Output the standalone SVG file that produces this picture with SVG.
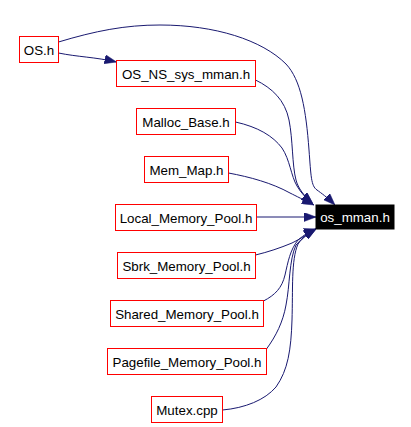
<svg xmlns="http://www.w3.org/2000/svg" width="411" height="427" viewBox="0 0 411 427">
<style>
.n rect{fill:#ffffff;stroke:#ff0000;stroke-width:1}
.n text{font-family:"Liberation Sans",Arial,sans-serif;font-size:13.33px;fill:#000000;text-anchor:middle}
.r rect{fill:#000000;stroke:#000000;stroke-width:1}
.r text{font-family:"Liberation Sans",Arial,sans-serif;font-size:13.33px;fill:#ffffff;text-anchor:middle}
.e path{fill:none;stroke:#191970;stroke-width:1;marker-end:url(#arr)}
</style>
<defs>
<marker id="arr" markerUnits="userSpaceOnUse" markerWidth="12" markerHeight="9" viewBox="0 0 12 9" refX="12" refY="4.5" orient="auto">
<path d="M0,0 L12,4.5 L0,9 z" fill="#191970" stroke="#191970" stroke-width="0.5"/>
</marker>
</defs>
<rect width="411" height="427" fill="#ffffff"/>
<g id="edges" class="e">
<path d="M58.5,42 C95,31 125,25 160,25 C215,25 262,40 286,64 C301,80 306,110 309,150 C311,176 311,186 317,190 C321,193 327,197 335,205"/>
<path d="M58.5,53 C78,57 95,57 116.5,62"/>
<path d="M255.5,80 C272,88 285,100 289,120 C293,140 292,165 296,180 C298,188 304,196 313,204"/>
<path d="M235.5,122 C258,127 273,136 282,148 C290,160 291,176 297,186 C301,193 306,198 313,204"/>
<path d="M228.5,173 C250,177 272,183 290,193 C296,196 304,200 314,205"/>
<path d="M256.5,217 L316,217"/>
<path d="M255.5,255 C268,252 280,248 292,243 C300,239 308,234 316,229"/>
<path d="M263.5,301 C275,295 282,288 285,275 C288,262 290,250 298,240 C304,235 310,231 316,229"/>
<path d="M266.5,349 C276,336 283,322 286,305 C290,285 289,260 296,245 C302,238 309,233 316,229"/>
<path d="M222.5,410 C245,408 265,400 276,387 C288,370 291,350 292,320 C293,290 291,260 298,244 C303,237 310,232 316,229"/>
</g>
<g id="os_mman_h" class="r"><rect x="316" y="205" width="78" height="24" stroke="none"/><text x="355" y="222">os_mman.h</text></g>
<g id="OS_h" class="n"><rect x="19.5" y="36.5" width="39" height="26"/><text x="39" y="54.5">OS.h</text></g>
<g id="OS_NS_sys_mman_h" class="n"><rect x="116.5" y="60.5" width="139" height="26"/><text x="186" y="78.5">OS_NS_sys_mman.h</text></g>
<g id="Malloc_Base_h" class="n"><rect x="136.5" y="108.5" width="99" height="26"/><text x="186" y="126.5">Malloc_Base.h</text></g>
<g id="Mem_Map_h" class="n"><rect x="144.5" y="156.5" width="84" height="26"/><text x="186.5" y="174.5">Mem_Map.h</text></g>
<g id="Local_Memory_Pool_h" class="n"><rect x="115.5" y="204.5" width="141" height="26"/><text x="186" y="222.5">Local_Memory_Pool.h</text></g>
<g id="Sbrk_Memory_Pool_h" class="n"><rect x="117.5" y="252.5" width="138" height="26"/><text x="186.5" y="270.5">Sbrk_Memory_Pool.h</text></g>
<g id="Shared_Memory_Pool_h" class="n"><rect x="110.5" y="300.5" width="153" height="26"/><text x="187" y="318.5">Shared_Memory_Pool.h</text></g>
<g id="Pagefile_Memory_Pool_h" class="n"><rect x="107.5" y="348.5" width="159" height="26"/><text x="187" y="366.5">Pagefile_Memory_Pool.h</text></g>
<g id="Mutex_cpp" class="n"><rect x="151.5" y="396.5" width="71" height="26"/><text x="187" y="414.5">Mutex.cpp</text></g>
</svg>
